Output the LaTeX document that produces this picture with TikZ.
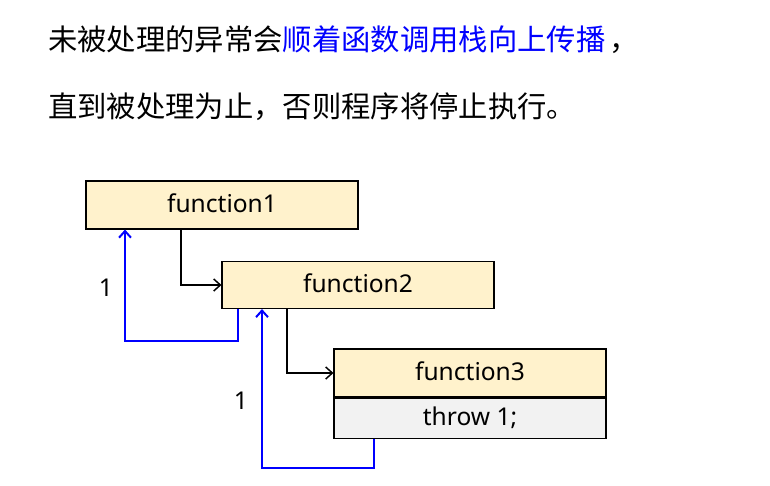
\documentclass[tikz,border=0pt]{standalone}
\usepackage{fontspec}
\setmainfont{Noto Sans}
\newfontfamily\cjk{Noto Sans CJK SC}
\usetikzlibrary{arrows.meta}
\definecolor{funcyellow}{HTML}{FFF2CC}
\definecolor{throwgray}{HTML}{F2F2F2}
\definecolor{unwindblue}{HTML}{0000FF}

\tikzset{
	func/.style={draw, fill=funcyellow, line width=.8pt, minimum width=204pt, minimum height=36pt, inner sep=0pt, font=\fontsize{18.4}{22}\selectfont},
	throwbox/.style={func, fill=throwgray, minimum height=30pt},
	call/.style={line width=1.1pt, -{Straight Barb[length=5pt,width=9pt]}},
	unwind/.style={call, unwindblue, line width=1.5pt},
	count/.style={font=\fontsize{18.4}{22}\selectfont},
	say/.style={anchor=west, inner sep=0pt, font=\cjk\fontsize{22}{26}\selectfont}
}

\begin{document}
\begin{tikzpicture}[x=.75pt, y=-.75pt]
	\useasboundingbox (0,0) rectangle (770,485);
	
	\node[say] (line1) at (48,40) {未被处理的异常会\textcolor{unwindblue}{顺着函数调用栈向上传播}\hspace{3pt}，};
	\node[say] (line2) at (48,107) {直到被处理为止，否则程序将停止执行。};
	
	\node[func] (f1) at (222,205) {\raisebox{3pt}{function1}};
	\node[func, minimum height=35.25pt] (f2) at (358,285) {\raisebox{3pt}{function2}};
	\node[func] (f3) at (470,373) {\raisebox{3pt}{function3}};
	\node[throwbox, anchor=north] (t3) at (f3.south) {throw 1;};
	
	% calls
	\draw[call] (f1.south -| 181,0) |- (f2.west);
	\draw[call] (f2.south -| 287,0) |- (f3.west);
	
	% unwinding
	\coordinate (u1) at (238,341);
	\coordinate (u2) at (374,468);
	\draw[unwind] (f2.south -| u1) -- (u1) -| (f1.south -| 125,0);
	\draw[unwind] (t3.south -| u2) -- (u2) -| (f2.south -| 262,0);
	
	\node[count] (n1) at (106,288) {1};
	\node[count] (n2) at (241,401) {1};
\end{tikzpicture}
\end{document}
